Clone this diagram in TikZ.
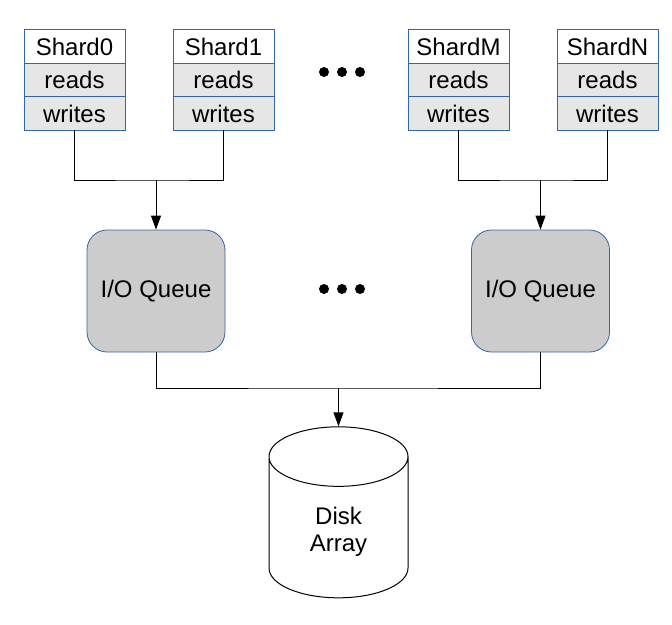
\documentclass[tikz,border=0pt]{standalone}
\usepackage{fontspec}
\setmainfont{Liberation Sans}
\usepackage{xcolor}
\usetikzlibrary{positioning,shapes.geometric,arrows.meta}
\definecolor{shardblue}{HTML}{3465A4}
\definecolor{rowgray}{HTML}{E6E6E6}
\definecolor{queuegray}{HTML}{CCCCCC}

\tikzset{
  shardhead/.style={rectangle, draw=shardblue, line width=1pt, fill=white, minimum width=101pt, minimum height=33.5pt, inner sep=0pt, outer sep=0pt, font=\fontsize{24}{27}\selectfont},
  shardrow/.style={shardhead, fill=rowgray},
  queuebox/.style={rectangle, rounded corners=20pt, draw=shardblue, line width=0.8pt, fill=queuegray, minimum width=138pt, minimum height=122pt, font=\fontsize{24}{27}\selectfont},
  diskstack/.style={cylinder, shape border rotate=90, aspect=0.93, draw=black, line width=1pt, fill=white, minimum width=139pt, minimum height=171pt, align=center, font=\fontsize{24}{27}\selectfont},
  dot/.style={circle, fill=black, minimum size=10pt, inner sep=0pt},
  wire/.style={draw=black, line width=1pt},
  feed/.style={wire, -{Triangle[length=14pt, width=10pt]}}
}

\begin{document}
\begin{tikzpicture}[x=1pt, y=-1pt]
\useasboundingbox (0,0) rectangle (672,624);

% Shards
\node[shardhead] (s0) at (74.5, 46.5) {Shard0};
\node[shardrow, below=0pt of s0] (s0r) {reads};
\node[shardrow, below=0pt of s0r] (s0w) {writes};

\node[shardhead] (s1) at (223.5, 46.5) {Shard1};
\node[shardrow, below=0pt of s1] (s1r) {reads};
\node[shardrow, below=0pt of s1r] (s1w) {writes};

\node[shardhead] (sm) at (458.5, 46.5) {ShardM};
\node[shardrow, below=0pt of sm] (smr) {reads};
\node[shardrow, below=0pt of smr] (smw) {writes};

\node[shardhead] (sn) at (607.5, 46.5) {ShardN};
\node[shardrow, below=0pt of sn] (snr) {reads};
\node[shardrow, below=0pt of snr] (snw) {writes};

% Dots
\node[dot] (d1) at (324, 72) {};
\node[dot] (d2) at (342, 72) {};
\node[dot] (d3) at (360, 72) {};
\node[dot] (d4) at (324, 289) {};
\node[dot] (d5) at (342, 289) {};
\node[dot] (d6) at (360, 289) {};

% Queues
\node[queuebox] (q0) at (156, 291) {I/O Queue};
\node[queuebox] (q1) at (540.5, 291) {I/O Queue};

% Disk
\node[diskstack] (disk) at (338.5, 532) {Disk\\Array};

% Shard wiring
\coordinate (m0) at (156, 180);
\coordinate (m1) at (540.5, 180);
\draw[wire] (s0w.south) |- (m0) -| (s1w.south);
\draw[feed] (m0) -- (q0.north);
\draw[wire] (smw.south) |- (m1) -| (snw.south);
\draw[feed] (m1) -- (q1.north);

% Queue wiring
\coordinate (m2) at (338.5, 388);
\draw[wire] (q0.south) |- (m2) -| (q1.south);
\draw[feed] (m2) -- (disk.top);

\end{tikzpicture}
\end{document}
